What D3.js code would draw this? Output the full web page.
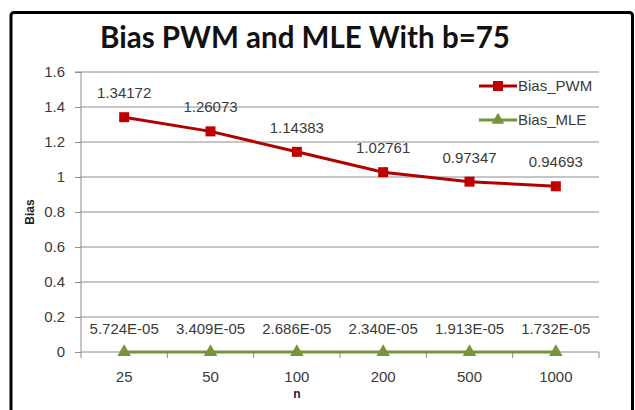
<!DOCTYPE html>
<html><head><meta charset="utf-8">
<script src="https://cdn.jsdelivr.net/npm/d3@7"></script>
<style>html,body{margin:0;padding:0;background:#fff;}svg{display:block;}</style>
</head><body>
<svg id="c" width="635" height="410"></svg>
<script>
const categories = ["25","50","100","200","500","1000"];
const pwm = [1.34172, 1.26073, 1.14383, 1.02761, 0.97347, 0.94693];
const mle = [5.724e-05, 3.409e-05, 2.686e-05, 2.340e-05, 1.913e-05, 1.732e-05];
const mleLabels = ["5.724E-05","3.409E-05","2.686E-05","2.340E-05","1.913E-05","1.732E-05"];
const pwmLabels = ["1.34172","1.26073","1.14383","1.02761","0.97347","0.94693"];
const yTicks = [0,0.2,0.4,0.6,0.8,1,1.2,1.4,1.6];
const seriesNames = ["Bias_PWM","Bias_MLE"];

const svg = d3.select("#c");
const font = "'Liberation Sans', Arial, sans-serif";
const fs = 15;
const tc = "#3a3a3a";
svg.append("rect").attr("x",11).attr("y",12.5).attr("width",621.5).attr("height",420).attr("rx",3)
  .attr("fill","#fff").attr("stroke","#000").attr("stroke-width",3);

const L = 81, R = 599, T = 72, B = 352;
const x = d3.scaleBand().domain(categories).range([L,R]);
const y = d3.scaleLinear().domain([0,1.6]).range([B,T]);

// gridlines
svg.append("g").selectAll("line").data(yTicks.filter(d=>d>0)).join("line")
  .attr("x1",L).attr("x2",R).attr("y1",d=>y(d)).attr("y2",d=>y(d))
  .attr("stroke","#8c8c8c").attr("stroke-width",1);

// y axis
const ya = svg.append("g").attr("transform",`translate(${L},0)`)
  .call(d3.axisLeft(y).tickValues(yTicks).tickSize(6).tickPadding(10).tickFormat(d3.format("")));
ya.select(".domain").attr("stroke","#8c8c8c").attr("d",`M-6,${T}H0V${B}`);
ya.selectAll(".tick line").attr("stroke","#8c8c8c");
ya.selectAll("text").attr("font-family",font).attr("font-size",fs).attr("fill",tc);

// x axis
const xa = svg.append("g").attr("transform",`translate(0,${B})`);
xa.append("line").attr("x1",L).attr("x2",R).attr("stroke","#8c8c8c");
xa.selectAll("line.t").data(d3.range(categories.length+1)).join("line").attr("class","t")
  .attr("x1",i=>L+i*x.step()).attr("x2",i=>L+i*x.step()).attr("y1",0).attr("y2",6).attr("stroke","#8c8c8c");
xa.selectAll("text").data(categories).join("text")
  .attr("x",d=>x(d)+x.bandwidth()/2).attr("y",30).attr("text-anchor","middle")
  .attr("font-family",font).attr("font-size",fs).attr("fill",tc).text(d=>d);

const cx = (d,i)=>x(categories[i])+x.bandwidth()/2;

// MLE series
svg.append("path").datum(mle).attr("fill","none").attr("stroke","#77933C").attr("stroke-width",3)
  .attr("d",d3.line().x(cx).y(d=>y(d)));
svg.append("g").selectAll("path").data(mle).join("path")
  .attr("transform",(d,i)=>`translate(${cx(d,i)},${y(d)})`)
  .attr("d",d3.symbol(d3.symbolTriangle,80)).attr("fill","#77933C");
svg.append("g").selectAll("text").data(mleLabels).join("text")
  .attr("x",(d,i)=>cx(d,i)).attr("y",(d,i)=>y(mle[i])-18).attr("text-anchor","middle")
  .attr("font-family",font).attr("font-size",fs).attr("fill",tc).text(d=>d);

// PWM series
svg.append("path").datum(pwm).attr("fill","none").attr("stroke","#B00000").attr("stroke-width",3)
  .attr("d",d3.line().x(cx).y(d=>y(d)));
svg.append("g").selectAll("rect").data(pwm).join("rect")
  .attr("x",(d,i)=>cx(d,i)-5).attr("y",d=>y(d)-5).attr("width",10).attr("height",10).attr("fill","#C00000");
svg.append("g").selectAll("text").data(pwmLabels).join("text")
  .attr("x",(d,i)=>cx(d,i)).attr("y",(d,i)=>y(pwm[i])-19).attr("text-anchor","middle")
  .attr("font-family",font).attr("font-size",fs).attr("fill",tc).text(d=>d);

// legend
const lg = svg.append("g");
const lgY = [86,120];
const lgCol = ["#B00000","#77933C"];
seriesNames.forEach((n,i)=>{
  lg.append("rect").attr("x",478).attr("y",lgY[i]-9).attr("width",121).attr("height",18).attr("fill","#fff");
  lg.append("line").attr("x1",479).attr("x2",517).attr("y1",lgY[i]).attr("y2",lgY[i]).attr("stroke",lgCol[i]).attr("stroke-width",3);
  if(i===0) lg.append("rect").attr("x",493).attr("y",lgY[i]-5).attr("width",10).attr("height",10).attr("fill","#C00000");
  else lg.append("path").attr("transform",`translate(498,${lgY[i]})`).attr("d",d3.symbol(d3.symbolTriangle,70)).attr("fill",lgCol[i]);
  lg.append("text").attr("x",518).attr("y",lgY[i]+5).attr("font-family",font).attr("font-size",fs).attr("fill",tc).text(n);
});

// titles
svg.append("text").attr("x",305).attr("y",48).attr("text-anchor","middle")
  .attr("font-family","Lato, 'Open Sans', sans-serif").attr("font-weight","bold").attr("font-size",29.5).attr("fill","#111")
  .text("Bias PWM and MLE With b=75");
svg.append("text").attr("transform","translate(34,212) rotate(-90)").attr("text-anchor","middle")
  .attr("font-family",font).attr("font-weight","bold").attr("font-size",12).attr("fill","#222").text("Bias");
svg.append("text").attr("x",297).attr("y",398).attr("text-anchor","middle")
  .attr("font-family",font).attr("font-weight","bold").attr("font-size",12).attr("fill","#222").text("n");
</script>
</body></html>
